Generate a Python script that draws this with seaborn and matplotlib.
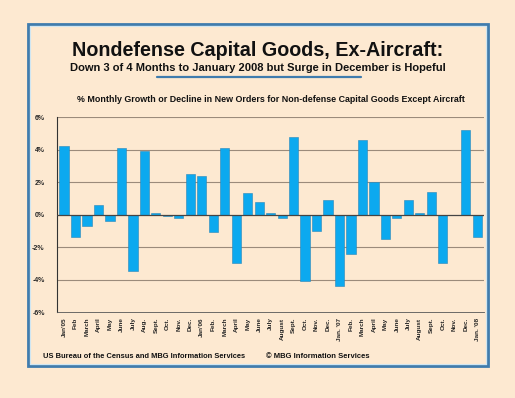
import pandas as pd
import matplotlib
matplotlib.use("Agg")
import matplotlib.pyplot as plt
from matplotlib.patches import Rectangle
from matplotlib.lines import Line2D
import seaborn as sns

# months Jan 2005 .. Jan 2008
months = pd.period_range("2005-01", "2008-01", freq="M").astype(str).tolist()
labels = ["Jan'05", "Feb", "March", "April", "May", "June", "July", "Aug.", "Sept.", "Oct.",
          "Nov.", "Dec.", "Jan'06", "Feb.", "March", "April", "May", "June", "July", "August",
          "Sept.", "Oct.", "Nov.", "Dec.", "Jan. '07", "Feb.", "March", "April", "May", "June",
          "July", "August", "Sept.", "Oct.", "Nov.", "Dec.", "Jan. '08"]
growth = [4.2, -1.4, -0.7, 0.6, -0.4, 4.1, -3.5, 3.9, 0.1, -0.1,
          -0.2, 2.5, 2.4, -1.1, 4.1, -3.0, 1.3, 0.8, 0.1, -0.2,
          4.8, -4.1, -1.0, 0.9, -4.4, -2.4, 4.6, 2.0, -1.5, -0.2,
          0.9, 0.1, 1.4, -3.0, -0.05, 5.2, -1.4]

df = pd.DataFrame({"month": months, "growth": growth})

bg = "#fde9d1"
frame_blue = "#3f7cae"
bar_blue = "#0ca9ef"

sns.set_theme(style="white")
plt.rcParams["font.family"] = ["Liberation Sans", "DejaVu Sans"]
plt.rcParams["font.weight"] = "bold"

fig = plt.figure(figsize=(5.15, 3.98), dpi=100, facecolor=bg)
ax = fig.add_axes([0.111, 0.216, 0.829, 0.49], facecolor=bg)

sns.barplot(data=df, x="month", y="growth", order=months, color=bar_blue,
            width=0.8, saturation=1, edgecolor="#2a86b8", linewidth=0.4, ax=ax)

ax.set_ylim(-6, 6)
ax.set_xlim(-0.6, len(months) - 0.4)
ax.set_yticks([-6, -4, -2, 0, 2, 4, 6])
ax.set_yticklabels([f"{v}%" for v in [-6, -4, -2, 0, 2, 4, 6]], fontsize=5, fontweight="bold")
ax.set_xticks(range(len(months)))
ax.set_xticklabels(labels, rotation=90, fontsize=4.6, fontweight="bold")
ax.set_xticks([i + 0.5 for i in range(-1, len(months))], minor=True)
ax.tick_params(axis="x", which="major", length=0, pad=4)
ax.tick_params(axis="x", which="minor", length=3, width=0.5, color="#555555", direction="out")
ax.tick_params(axis="y", length=0, pad=9)
ax.set_xlabel("")
ax.set_ylabel("")

for v in [-4, -2, 2, 4, 6]:
    ax.axhline(v, color="#9b8b7b", lw=0.8, zorder=0)
ax.axhline(0, color="#444444", lw=0.9, zorder=3)

for side in ["top", "right"]:
    ax.spines[side].set_visible(False)
ax.spines["left"].set_color("#333333")
ax.spines["left"].set_linewidth(0.8)
ax.spines["bottom"].set_color("#555555")
ax.spines["bottom"].set_linewidth(0.6)

# outer blue frame with a light inner edge
fig.patches.append(Rectangle((28 / 515, 1 - 366 / 398), 460 / 515, 342 / 398,
                             transform=fig.transFigure, fill=False,
                             edgecolor=frame_blue, lw=2))
fig.patches.append(Rectangle((30 / 515, 1 - 364 / 398), 456 / 515, 338 / 398,
                             transform=fig.transFigure, fill=False,
                             edgecolor="#cfe6f2", lw=0.8))

fig.text(0.5, 1 - 50 / 398, "Nondefense Capital Goods, Ex-Aircraft:", ha="center", va="center",
         fontsize=14.2, fontweight="bold", color="#111111")
fig.text(0.5, 1 - 68 / 398, "Down 3 of 4 Months to January 2008 but Surge in December is Hopeful",
         ha="center", va="center", fontsize=8.05, fontweight="bold", color="#111111")
fig.lines.append(Line2D([157 / 515, 361 / 515], [1 - 77 / 398, 1 - 77 / 398],
                        transform=fig.transFigure, color=frame_blue, lw=1.6))
fig.text(271 / 515, 1 - 99 / 398,
         "% Monthly Growth or Decline in New Orders for Non-defense Capital Goods Except Aircraft",
         ha="center", va="center", fontsize=6.4, fontweight="bold", color="#111111")
fig.text(43 / 515, 1 - 356 / 398, "US Bureau of the Census and MBG Information Services",
         ha="left", va="center", fontsize=5.45, fontweight="bold", color="#111111")
fig.text(266 / 515, 1 - 356 / 398, "\u00a9 MBG Information Services",
         ha="left", va="center", fontsize=5.5, fontweight="bold", color="#111111")

fig.savefig("out.png", dpi=100, facecolor=bg)
